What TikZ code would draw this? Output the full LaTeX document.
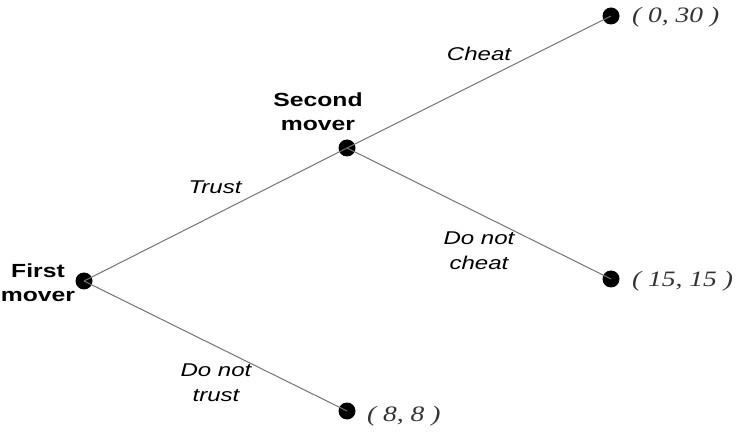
\documentclass[tikz,border=0pt]{standalone}
\usepackage{graphicx}
\usepackage{fontspec}
\setmainfont{Liberation Serif}
\newfontfamily\arialf{Liberation Sans}
\begin{document}
\begin{tikzpicture}[x=1pt,y=-1pt,
  dot/.style={circle,fill=black,inner sep=0pt,minimum width=17pt,minimum height=16pt},
  edge/.style={draw=black!55,line width=1pt},
  player/.style={font=\arialf\bfseries\fontsize{19}{24}\selectfont,align=center,inner sep=0pt},
  act/.style={font=\arialf\itshape\fontsize{18.5}{25}\selectfont,align=center,inner sep=0pt},
  pay/.style={font=\itshape\fontsize{22}{24}\selectfont,text=black!80,anchor=west,inner sep=0pt}]
\useasboundingbox (0,0) rectangle (742,438);
\node[dot] (a) at (84,281) {};
\node[dot] (b) at (347,148) {};
\node[dot] (c) at (611,16) {};
\node[dot] (d) at (611,279) {};
\node[dot] (e) at (347,411) {};
\draw[edge] (a.center) -- (b.center);
\draw[edge] (a.center) -- (e.center);
\draw[edge] (b.center) -- (c.center);
\draw[edge] (b.center) -- (d.center);
\node[player] (pa) at (38,283) {\scalebox{1.3}[1]{First}\\\scalebox{1.3}[1]{mover}};
\node[player] (pb) at (318,112) {\scalebox{1.3}[1]{Second}\\\scalebox{1.3}[1]{mover}};
\node[act] (l1) at (215,187) {\scalebox{1.3}[1]{Trust}};
\node[act] (l2) at (479,54) {\scalebox{1.3}[1]{Cheat}};
\node[act] (l3) at (479,251) {\scalebox{1.3}[1]{Do not}\\\scalebox{1.3}[1]{cheat}};
\node[act] (l4) at (216,383) {\scalebox{1.3}[1]{Do not}\\\scalebox{1.3}[1]{trust}};
\node[pay] (p1) at (632,17) {\scalebox{1.25}[1]{( 0, 30 )}};
\node[pay] (p2) at (632,281) {\scalebox{1.25}[1]{( 15, 15 )}};
\node[pay] (p3) at (367,416) {\scalebox{1.25}[1]{( 8, 8 )}};
\end{tikzpicture}
\end{document}
